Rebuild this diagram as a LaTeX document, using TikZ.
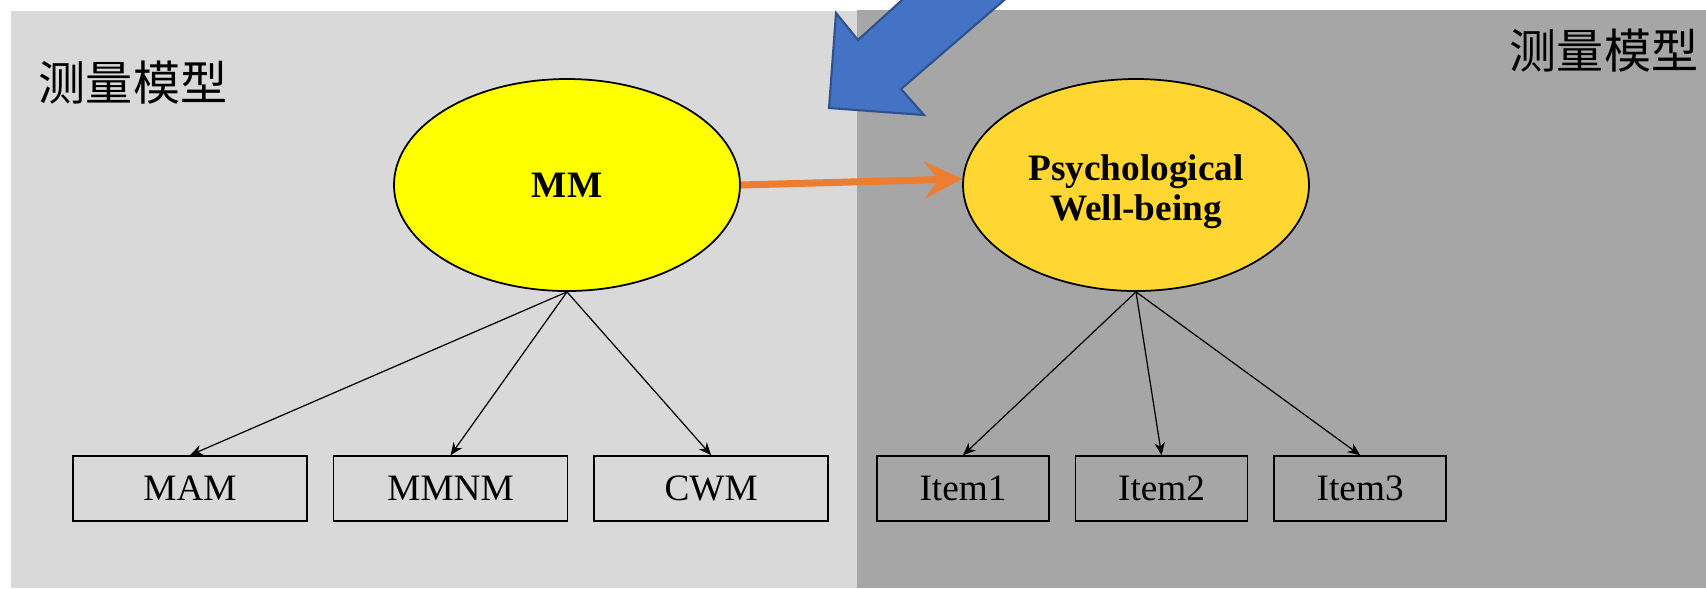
\documentclass[tikz,border=0pt]{standalone}
\usepackage{fontspec}
\setmainfont{Liberation Serif}
\newfontfamily\cjkfont{Noto Sans CJK SC}
\usetikzlibrary{arrows.meta, positioning, shapes.geometric}

\definecolor{lightPanel}{HTML}{D9D9D9}
\definecolor{darkPanel}{HTML}{A6A6A6}
\definecolor{mmYellow}{HTML}{FFFF00}
\definecolor{pwbGold}{HTML}{FFD632}
\definecolor{pathOrange}{HTML}{ED7D31}
\definecolor{bigBlue}{HTML}{4472C4}
\definecolor{bigBlueEdge}{HTML}{2F528F}

\begin{document}
\begin{tikzpicture}
	[
		node distance=0.25cm,
		font=\fontsize{10.6}{12}\selectfont,
		latentEllipse/.style={
				ellipse,
				minimum width=3.46cm,
				minimum height=2.12cm,
				inner sep=0pt,
				draw=black,
				line width=0.5pt,
				font=\fontsize{10.6}{11.4}\selectfont\bfseries,
				align=center,
			},
		itemBox/.style={
				rectangle,
				minimum height=0.65cm,
				inner sep=0pt,
				draw=black,
				line width=0.45pt,
			},
		loading/.style={
				-{Stealth[length=3.6pt, width=3pt]},
				line width=0.35pt,
			},
		panelLabel/.style={
				font=\fontsize{13.4}{15}\selectfont\cjkfont,
				inner sep=0pt,
			},
	]
	\useasboundingbox (0,0) rectangle (17.06,-5.88);
	\fill [lightPanel] (0.11,-0.11) rectangle (8.57,-5.88);
	\fill [darkPanel] (8.57,-0.10) rectangle (17.06,-5.88);

	% big blue arrow, cut off at the top edge
	\begin{scope}
		\clip (0,0) rectangle (17.06,-5.88);
		\draw [bigBlue, draw=bigBlueEdge, fill=bigBlue, line width=0.6pt, line join=miter]
			(8.29,-1.08) -- (8.36,-0.13) -- (8.58,-0.40) -- (9.35,0.30)
			-- (10.39,0.30) -- (9.01,-0.89) -- (9.24,-1.15) -- cycle;
	\end{scope}

	\node [panelLabel] (leftTitle) at (1.33,-0.83) {测量模型};
	\node [panelLabel] (rightTitle) at (16.04,-0.51) {测量模型};

	% latent variables
	\node [latentEllipse, fill=mmYellow] (mm) at (5.67,-1.85) {MM};
	\node [latentEllipse, fill=pwbGold] (pwb) at (11.36,-1.85)
		{\rule{0pt}{11pt}Psychological\\Well-being};

	% indicators
	\node [itemBox, minimum width=2.34cm] (mam) at (1.90,-4.885) {MAM};
	\node [itemBox, minimum width=2.34cm, right=of mam] (mmnm) {MMNM};
	\node [itemBox, minimum width=2.34cm, right=of mmnm] (cwm) {CWM};

	\node [itemBox, minimum width=1.72cm] (item1) at (9.63,-4.885) {Item1};
	\node [itemBox, minimum width=1.72cm, right=of item1] (item2) {Item2};
	\node [itemBox, minimum width=1.72cm, right=of item2] (item3) {Item3};

	\foreach \ind in {mam, mmnm, cwm}
		\draw [loading] (mm.south) -- (\ind.north);
	\foreach \ind in {item1, item2, item3}
		\draw [loading] (pwb.south) -- (\ind.north);

	\draw [pathOrange, line width=2pt, -{Stealth[length=10.8pt, width=10.5pt, inset=4pt]}]
		(mm.east) -- (pwb.178);
\end{tikzpicture}
\end{document}
